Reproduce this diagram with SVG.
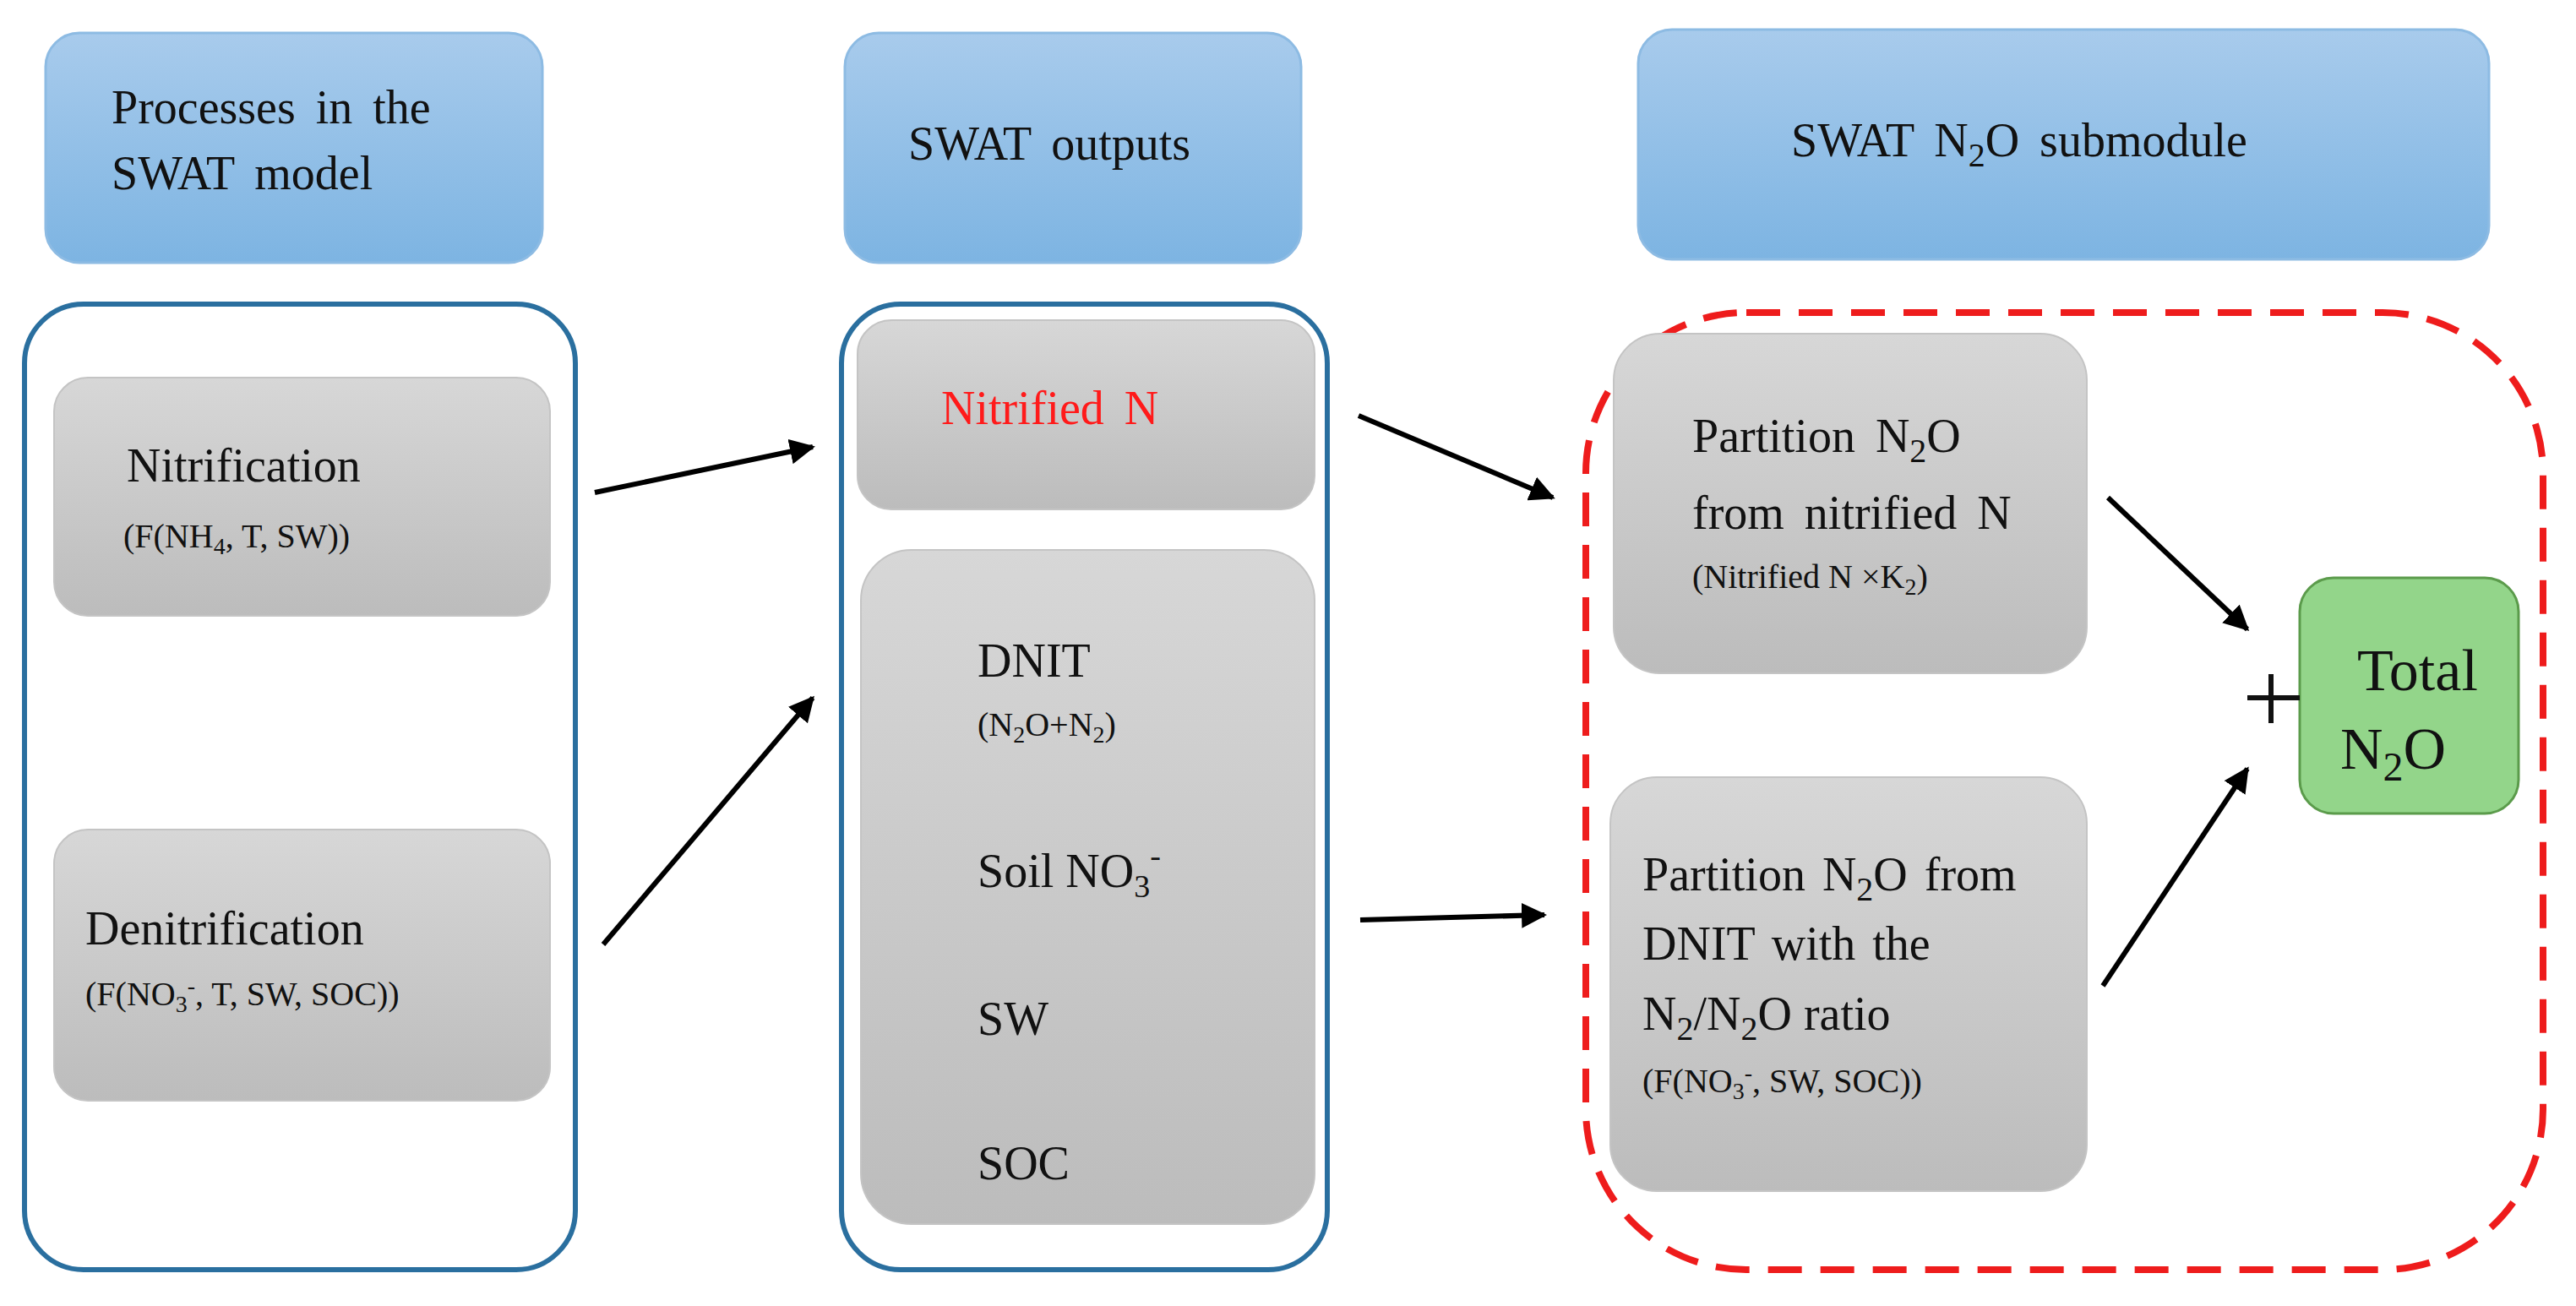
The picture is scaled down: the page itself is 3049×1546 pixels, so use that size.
<svg xmlns="http://www.w3.org/2000/svg" width="3049" height="1546" viewBox="0 0 3049 1546">
<defs>
<linearGradient id="gb" x1="0" y1="0" x2="0" y2="1"><stop offset="0" stop-color="#a8cbec"/><stop offset="1" stop-color="#7db4e2"/></linearGradient>
<linearGradient id="gg" x1="0" y1="0" x2="0" y2="1"><stop offset="0" stop-color="#d7d7d7"/><stop offset="1" stop-color="#bcbcbc"/></linearGradient>
<marker id="ah" viewBox="0 0 10 10" refX="9" refY="5" markerWidth="5" markerHeight="5" orient="auto"><path d="M0,0 L10,5 L0,10 z" fill="#000"/></marker>
<style>
.hdr{fill:url(#gb);stroke:#8dbbe3;stroke-width:3}
.box{fill:url(#gg);stroke:#c4c4c4;stroke-width:2}
.cont{fill:#fff;stroke:#2a6f9f;stroke-width:6}
text{font-family:"Liberation Serif","Times New Roman",serif;fill:#111}
.t{font-size:56px}
.s{font-size:40px}
.c line{stroke:#000;stroke-width:6;marker-end:url(#ah)}
</style>
</defs>
<rect width="3049" height="1546" fill="#fff"/>
<g id="h1"><rect class="hdr" x="54" y="39" width="588" height="272" rx="40"/><text class="t" x="132" y="146" word-spacing="10">Processes in the</text><text class="t" x="132" y="224" word-spacing="10">SWAT model</text></g>
<g id="h2"><rect class="hdr" x="1000" y="39" width="540" height="272" rx="40"/><text class="t" x="1075" y="189" word-spacing="10">SWAT outputs</text></g>
<g id="h3"><rect class="hdr" x="1939" y="35" width="1007" height="272" rx="40"/><text class="t" x="2120" y="185" word-spacing="10">SWAT N<tspan class="s" dy="12">2</tspan><tspan dy="-12">O submodule</tspan></text></g>
<g id="left"><rect class="cont" x="29" y="360" width="652" height="1143" rx="70"/></g>
<g id="nitrification"><rect class="box" x="64" y="447" width="587" height="282" rx="40"/><text class="t" x="150" y="570">Nitrification</text><text class="s" x="146" y="648">(F(NH<tspan font-size="28" dy="8">4</tspan><tspan dy="-8">, T, SW))</tspan></text></g>
<g id="denitrification"><rect class="box" x="64" y="982" width="587" height="321" rx="40"/><text class="t" x="101" y="1118">Denitrification</text><text class="s" x="101" y="1190">(F(NO<tspan font-size="28" dy="8">3</tspan><tspan font-size="28" dy="-22">-</tspan><tspan dy="14">, T, SW, SOC))</tspan></text></g>
<g id="middle"><rect class="cont" x="996" y="360" width="575" height="1143" rx="70"/></g>
<g id="nitrifiedN"><rect class="box" x="1015" y="379" width="541" height="224" rx="40"/><text class="t" x="1114" y="502" style="fill:#ff1a1a" word-spacing="10">Nitrified N</text></g>
<g id="outputs"><rect class="box" x="1019" y="651" width="537" height="798" rx="60"/>
<text class="t" x="1157" y="801">DNIT</text><text class="s" x="1157" y="871">(N<tspan font-size="28" dy="8">2</tspan><tspan dy="-8">O+N</tspan><tspan font-size="28" dy="8">2</tspan><tspan dy="-8">)</tspan></text>
<text class="t" x="1157" y="1050">Soil NO<tspan font-size="38" dy="12">3</tspan><tspan font-size="38" dy="-36">-</tspan></text>
<text class="t" x="1157" y="1225">SW</text><text class="t" x="1157" y="1396">SOC</text></g>
<g id="submodule"><rect x="1877" y="370" width="1133" height="1133" rx="190" fill="none" stroke="#ee1c1c" stroke-width="8" stroke-dasharray="40,22"/></g>
<g id="partition1"><rect class="box" x="1910" y="395" width="560" height="402" rx="55"/><text class="t" x="2003" y="535" word-spacing="10">Partition N<tspan class="s" dy="12">2</tspan><tspan dy="-12">O</tspan></text><text class="t" x="2003" y="626" word-spacing="10">from nitrified N</text><text class="s" x="2003" y="696">(Nitrified N ×K<tspan font-size="28" dy="8">2</tspan><tspan dy="-8">)</tspan></text></g>
<g id="partition2"><rect class="box" x="1906" y="920" width="564" height="490" rx="55"/><text class="t" x="1944" y="1054" word-spacing="6">Partition N<tspan class="s" dy="12">2</tspan><tspan dy="-12">O from</tspan></text><text class="t" x="1944" y="1136" word-spacing="6">DNIT with the</text><text class="t" x="1944" y="1219">N<tspan class="s" dy="12">2</tspan><tspan dy="-12">/N</tspan><tspan class="s" dy="12">2</tspan><tspan dy="-12">O ratio</tspan></text><text class="s" x="1944" y="1293">(F(NO<tspan font-size="28" dy="8">3</tspan><tspan font-size="28" dy="-22">-</tspan><tspan dy="14">, SW, SOC))</tspan></text></g>
<g id="total"><rect x="2722" y="684" width="259" height="279" rx="40" fill="#93d58a" stroke="#5b9b4b" stroke-width="3"/><text x="2790" y="817" font-size="70">Total</text><text x="2770" y="910" font-size="70">N<tspan font-size="48" dy="14">2</tspan><tspan dy="-14">O</tspan></text></g>
<g id="plus"><path d="M2660,826 H2722 M2688,798 V856" stroke="#111" stroke-width="6" fill="none"/></g>
<g id="connectors" class="c">
<line x1="704" y1="583" x2="962" y2="529"/>
<line x1="714" y1="1118" x2="962" y2="826"/>
<line x1="1608" y1="492" x2="1838" y2="589"/>
<line x1="1610" y1="1089" x2="1828" y2="1083"/>
<line x1="2495" y1="589" x2="2660" y2="745"/>
<line x1="2489" y1="1167" x2="2660" y2="910"/>
</g>
</svg>
